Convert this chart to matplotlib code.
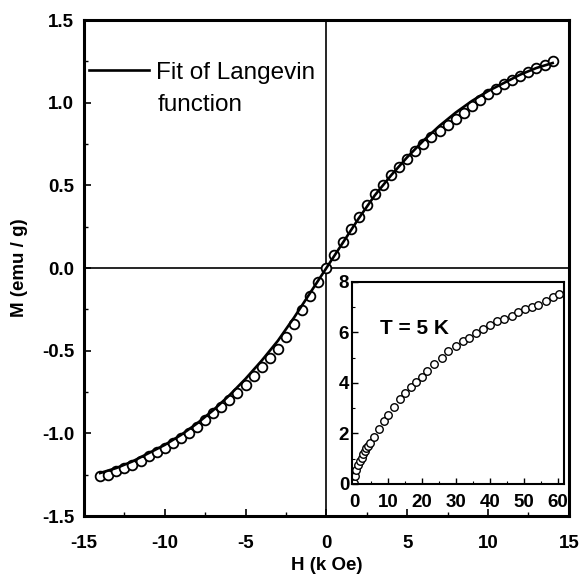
import matplotlib

matplotlib.use("Agg")
import matplotlib.pyplot as plt
import numpy as np

plt.rcParams["font.family"] = ["Liberation Sans", "DejaVu Sans"]

# Room-temperature M(H) loop
h_data = np.array([
    -14.0, -13.5, -13.0, -12.5, -12.0, -11.5, -11.0, -10.5, -10.0, -9.5,
    -9.0, -8.5, -8.0, -7.5, -7.0, -6.5, -6.0, -5.5, -5.0, -4.5,
    -4.0, -3.5, -3.0, -2.5, -2.0, -1.5, -1.0, -0.5, 0.0, 0.5,
    1.0, 1.5, 2.0, 2.5, 3.0, 3.5, 4.0, 4.5, 5.0, 5.5,
    6.0, 6.5, 7.0, 7.5, 8.0, 8.5, 9.0, 9.5, 10.0, 10.5,
    11.0, 11.5, 12.0, 12.5, 13.0, 13.5, 14.0,
])
m_data = np.array([
    -1.26, -1.25, -1.23, -1.21, -1.19, -1.165, -1.14, -1.115, -1.09, -1.06,
    -1.03, -0.995, -0.96, -0.92, -0.88, -0.84, -0.80, -0.755, -0.71, -0.655,
    -0.60, -0.545, -0.49, -0.415, -0.34, -0.255, -0.17, -0.085, 0.0, 0.08,
    0.16, 0.235, 0.31, 0.38, 0.445, 0.505, 0.56, 0.61, 0.66, 0.705,
    0.75, 0.79, 0.83, 0.865, 0.90, 0.94, 0.98, 1.015, 1.05, 1.08,
    1.11, 1.135, 1.16, 1.185, 1.21, 1.23, 1.25,
])

# Langevin fit curve
h_fit = np.array([
    -14, -13, -12, -11, -10, -9, -8, -7, -6, -5, -4, -3, -2, -1, 0,
    1, 2, 3, 4, 5, 6, 7, 8, 9, 10, 11, 12, 13, 14,
])
m_fit = np.array([
    -1.24, -1.21, -1.17, -1.12, -1.07, -1.01, -0.94, -0.86, -0.77, -0.67,
    -0.56, -0.44, -0.30, -0.15, 0.0,
    0.15, 0.30, 0.44, 0.56, 0.67, 0.77, 0.86, 0.94, 1.01, 1.07,
    1.12, 1.17, 1.21, 1.24,
])

# Inset: T = 5 K
h_inset = np.array([
    0.0, 0.3, 0.7, 1.2, 1.7, 2.2, 2.7, 3.2, 3.6, 4.1, 4.6,
    6.0, 7.2, 8.7, 10.1, 11.9, 13.6, 15.1, 16.9, 18.1, 19.9,
    21.6, 23.5, 25.8, 27.8, 30.0, 32.0, 33.8, 35.9, 37.9, 40.1,
    42.1, 44.1, 46.4, 48.4, 50.3, 52.3, 54.3, 56.6, 58.6, 60.3,
])
m_inset = np.array([
    0.05, 0.3, 0.57, 0.75, 0.9, 1.04, 1.17, 1.3, 1.42, 1.52, 1.62,
    1.86, 2.18, 2.49, 2.75, 3.05, 3.35, 3.62, 3.84, 4.05, 4.24,
    4.48, 4.75, 5.0, 5.25, 5.47, 5.67, 5.8, 5.96, 6.13, 6.31,
    6.44, 6.53, 6.66, 6.83, 6.93, 7.02, 7.1, 7.26, 7.42, 7.52,
])

fig = plt.figure(figsize=(5.87, 5.75), dpi=100)
ax = fig.add_axes([0.143, 0.1026, 0.826, 0.8626])

ax.axhline(0, color="black", lw=1.2, zorder=1)
ax.axvline(0, color="black", lw=1.2, zorder=1)

ax.plot(h_data, m_data, "o", ms=7.0, mfc="white", mec="black", mew=1.3, zorder=2)
ax.plot(h_fit, m_fit, "-", color="black", lw=1.9, zorder=3, label="Fit of Langevin")

ax.set_xlim(-15, 15)
ax.set_ylim(-1.5, 1.5)
ax.set_xticks(np.arange(-15, 16, 5))
ax.set_xticks(np.arange(-15, 15.1, 2.5), minor=True)
ax.set_yticks(np.arange(-1.5, 1.51, 0.5))
ax.set_yticks(np.arange(-1.5, 1.51, 0.25), minor=True)
ax.set_xticklabels(["-15", "-10", "-5", "0", "5", "10", "15"])
ax.set_yticklabels(["-1.5", "-1.0", "-0.5", "0.0", "0.5", "1.0", "1.5"])
ax.tick_params(which="both", direction="in", top=False, right=False)
ax.tick_params(which="major", length=5, width=1.2, labelsize=13.5)
ax.tick_params(axis="x", which="major", pad=14)
ax.tick_params(axis="y", which="major", pad=7)
ax.tick_params(which="minor", length=3, width=1.0)
for lbl in ax.get_xticklabels() + ax.get_yticklabels():
    lbl.set_fontweight("bold")
for sp in ax.spines.values():
    sp.set_linewidth(2.2)

ax.set_xlabel("H (k Oe)", fontsize=13.5, fontweight="bold", labelpad=3)
ax.set_ylabel("M (emu / g)", fontsize=13.5, fontweight="bold", labelpad=10)

leg = ax.legend(loc="upper left", bbox_to_anchor=(-0.025, 0.95), frameon=False,
                fontsize=17.5, handlelength=2.47, handletextpad=0.3, borderaxespad=0.3)
ax.text(0.152, 0.8286, "function", transform=ax.transAxes, fontsize=17.5,
        ha="left", va="center")

# Inset
ins = fig.add_axes([0.5997, 0.1583, 0.361, 0.3513])
ins.plot(h_inset, m_inset, "o", ms=5.4, mfc="white", mec="black", mew=1.0)
ins.set_xlim(-0.6, 61.8)
ins.set_ylim(0, 8)
ins.set_xticks(np.arange(0, 61, 10))
ins.set_xticks(np.arange(0, 61, 5), minor=True)
ins.set_yticks(np.arange(0, 9, 2))
ins.set_yticks(np.arange(0, 9, 1), minor=True)
ins.tick_params(which="both", direction="in", top=False, right=False)
ins.tick_params(which="major", length=4, width=1.0, labelsize=13.5)
ins.tick_params(axis="x", which="major", pad=7)
ins.tick_params(axis="y", which="major", pad=2)
ins.tick_params(which="minor", length=2.5, width=0.8)
for lbl in ins.get_xticklabels() + ins.get_yticklabels():
    lbl.set_fontweight("bold")
for sp in ins.spines.values():
    sp.set_linewidth(1.5)
ins.text(0.13, 0.77, "T = 5 K", transform=ins.transAxes, fontsize=15,
         fontweight="bold", ha="left", va="center")

fig.savefig("out.png", dpi=100)
